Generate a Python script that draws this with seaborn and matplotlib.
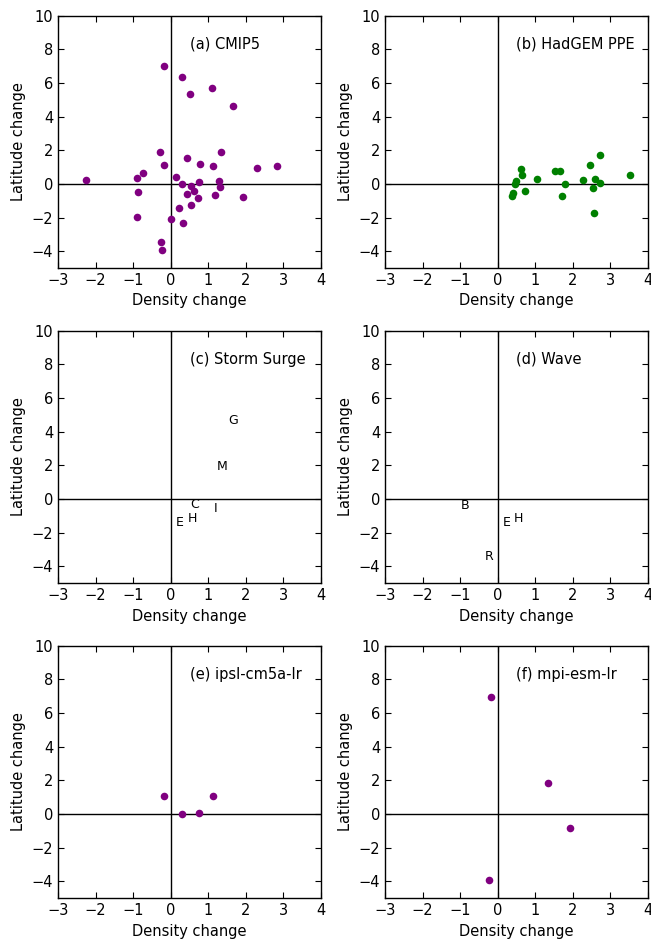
import numpy as np
import pandas as pd
import seaborn as sns
import matplotlib
matplotlib.use("Agg")
import matplotlib.pyplot as plt

# CMIP5 multi-model points (density change, latitude change)
cmip5_density = [-0.18, 0.31, 0.52, 1.10, 1.66, -0.28, -0.18, 0.44, 1.34, 0.78,
                 1.13, 2.30, 2.84, -2.26, -0.90, -0.74, 0.15, 0.31, 0.53, 0.74,
                 1.28, 1.32, -0.88, 0.43, 0.62, 0.73, 1.17, 1.92, 0.23, 0.54,
                 -0.91, 0.00, 0.33, -0.25, -0.24]
cmip5_latitude = [6.98, 6.35, 5.36, 5.71, 4.60, 1.92, 1.09, 1.53, 1.87, 1.19,
                  1.05, 0.95, 1.05, 0.24, 0.36, 0.65, 0.42, 0.00, -0.10, 0.08,
                  0.16, -0.20, -0.46, -0.63, -0.42, -0.87, -0.69, -0.81, -1.45, -1.23,
                  -1.94, -2.06, -2.34, -3.45, -3.91]

# HadGEM perturbed physics ensemble
hadgem_density = [0.61, 0.65, 0.46, 0.50, 0.40, 0.39, 0.73, 1.04, 1.52, 1.66,
                  1.79, 1.70, 2.28, 2.45, 2.71, 2.59, 2.73, 2.53, 2.55, 3.53]
hadgem_latitude = [0.89, 0.52, 0.00, 0.14, -0.54, -0.75, -0.40, 0.30, 0.79, 0.77,
                   -0.02, -0.75, 0.22, 1.09, 1.69, 0.26, 0.06, -0.26, -1.71, 0.50]

# models used for storm surge and wave studies
surge_letters = ["G", "M", "C", "I", "H", "E"]
surge_density = [1.66, 1.36, 0.63, 1.20, 0.57, 0.25]
surge_latitude = [4.68, 1.94, -0.34, -0.58, -1.15, -1.39]

wave_letters = ["B", "E", "H", "R"]
wave_density = [-0.87, 0.25, 0.56, -0.24]
wave_latitude = [-0.38, -1.37, -1.17, -3.42]

ipsl_density = [-0.18, 0.31, 0.74, 1.13]
ipsl_latitude = [1.09, 0.00, 0.08, 1.05]

mpi_density = [-0.18, 1.34, 1.92, -0.24]
mpi_latitude = [6.98, 1.87, -0.81, -3.91]

sns.set_style("ticks")
plt.rcParams.update({
    "font.family": ["DejaVu Sans"],
    "font.size": 10.5,
    "text.color": "black",
    "axes.labelcolor": "black",
    "xtick.color": "black",
    "ytick.color": "black",
    "xtick.direction": "in",
    "ytick.direction": "in",
    "xtick.top": True,
    "ytick.right": True,
    "xtick.major.size": 4,
    "ytick.major.size": 4,
    "xtick.labelsize": 10.5,
    "ytick.labelsize": 10.5,
    "axes.edgecolor": "black",
    "axes.linewidth": 1.0,
})

fig, axes = plt.subplots(3, 2, figsize=(6.51, 9.40), dpi=100)
fig.subplots_adjust(left=0.0891, right=0.9954, top=0.9835, bottom=0.0444,
                    wspace=0.243, hspace=0.248)


def setup(ax, title):
    ax.axhline(0, color="black", lw=1, zorder=1)
    ax.axvline(0, color="black", lw=1, zorder=1)
    ax.set_xlim(-3, 4)
    ax.set_ylim(-5, 10)
    ax.set_xticks(range(-3, 5))
    ax.set_yticks(range(-4, 11, 2))
    ax.set_xlabel("Density change")
    ax.set_ylabel("Latitude change")
    ax.text(0.5, 8.3, title, ha="left", va="center", fontsize=10.5)


def dots(ax, xs, ys, color):
    df = pd.DataFrame({"x": xs, "y": ys})
    sns.scatterplot(data=df, x="x", y="y", ax=ax, color=color, s=30,
                    linewidth=0, zorder=3)


def letters(ax, labels, xs, ys):
    for lab, x, y in zip(labels, xs, ys):
        ax.text(x, y, lab, ha="center", va="center", fontsize=9)


dots(axes[0, 0], cmip5_density, cmip5_latitude, "#800080")
setup(axes[0, 0], "(a) CMIP5")

dots(axes[0, 1], hadgem_density, hadgem_latitude, "#008000")
setup(axes[0, 1], "(b) HadGEM PPE")

letters(axes[1, 0], surge_letters, surge_density, surge_latitude)
setup(axes[1, 0], "(c) Storm Surge")

letters(axes[1, 1], wave_letters, wave_density, wave_latitude)
setup(axes[1, 1], "(d) Wave")

dots(axes[2, 0], ipsl_density, ipsl_latitude, "#800080")
setup(axes[2, 0], "(e) ipsl-cm5a-lr")

dots(axes[2, 1], mpi_density, mpi_latitude, "#800080")
setup(axes[2, 1], "(f) mpi-esm-lr")

fig.savefig("out.png", dpi=100)
